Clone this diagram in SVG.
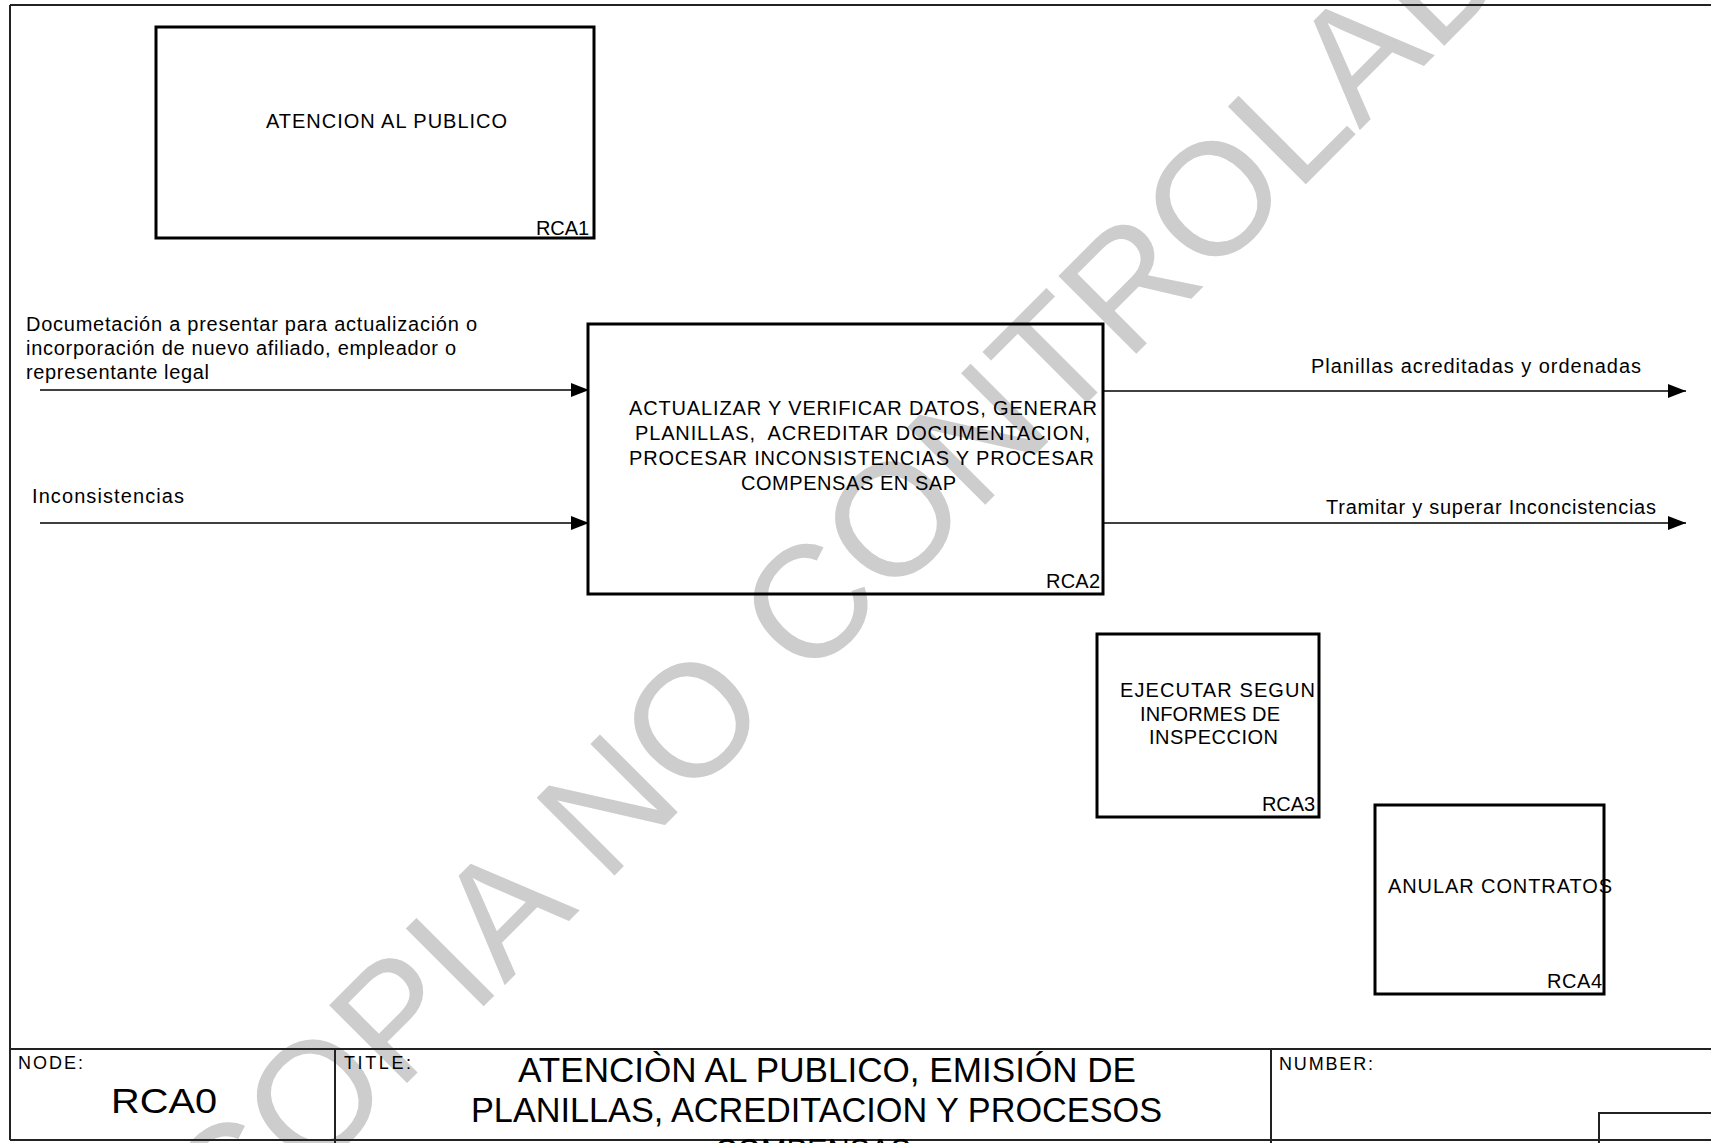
<svg xmlns="http://www.w3.org/2000/svg" width="1711" height="1143" viewBox="0 0 1711 1143">
  <style>
    .frame { fill: none; stroke: #222; stroke-width: 2; }
    .box { fill: none; stroke: #000; stroke-width: 3; }
    .flow { fill: none; stroke: #000; stroke-width: 1.6; }
    .t { font-family: "Liberation Sans", Arial, sans-serif; font-size: 20px; fill: #000; }
    .small { font-family: "Liberation Sans", Arial, sans-serif; font-size: 18px; fill: #000; }
    .big { font-family: "Liberation Sans", Arial, sans-serif; font-size: 35px; fill: #000; }
    .wm { font-family: "Liberation Sans", Arial, sans-serif; font-size: 160px; fill: #cdcdcd; }
  </style>
  <defs>
    <marker id="arrow" markerUnits="userSpaceOnUse" markerWidth="19" markerHeight="14" refX="18" refY="7" orient="auto">
      <path d="M0,0 L18,7 L0,14 z" fill="#000"/>
    </marker>
  </defs>

  <rect width="1711" height="1143" fill="#fff"/>

  <!-- watermark -->
  <text class="wm" transform="translate(228,1262) rotate(-45)">COPIA NO CONTROLADA</text>

  <!-- sheet frame and title block -->
  <g id="frame">
    <line class="frame" x1="10" y1="5" x2="1711" y2="5"/>
    <line class="frame" x1="10" y1="5" x2="10" y2="1140"/>
    <line class="frame" x1="10" y1="1049" x2="1711" y2="1049"/>
    <line class="frame" x1="10" y1="1140" x2="1711" y2="1140" stroke-width="2.5"/>
    <line class="frame" x1="335" y1="1049" x2="335" y2="1143"/>
    <line class="frame" x1="1271" y1="1049" x2="1271" y2="1143"/>
    <polyline class="frame" points="1599,1143 1599,1113 1711,1113" stroke-width="1.5"/>
  </g>

  <g id="title-block">
    <text class="small" x="18" y="1069" textLength="65" lengthAdjust="spacing">NODE:</text>
    <text class="big" x="111" y="1113" font-size="36" textLength="106" lengthAdjust="spacingAndGlyphs">RCA0</text>
    <text class="small" x="344" y="1069" textLength="67" lengthAdjust="spacing">TITLE:</text>
    <text class="big" x="518" y="1082" textLength="618" lengthAdjust="spacingAndGlyphs">ATENCIÒN AL PUBLICO, EMISIÓN DE</text>
    <text class="big" x="471" y="1122" textLength="691" lengthAdjust="spacingAndGlyphs">PLANILLAS, ACREDITACION Y PROCESOS</text>
    <text class="big" x="715" y="1163" textLength="196" lengthAdjust="spacingAndGlyphs">COMPENSAS</text>
    <text class="small" x="1279" y="1070" textLength="94" lengthAdjust="spacing">NUMBER:</text>
  </g>

  <!-- activity boxes -->
  <g id="RCA1">
    <rect class="box" x="156" y="27" width="438" height="211"/>
    <text class="t" x="266" y="128" textLength="241" lengthAdjust="spacing">ATENCION AL PUBLICO</text>
    <text class="t" x="536" y="235" textLength="53" lengthAdjust="spacing">RCA1</text>
  </g>

  <g id="RCA2">
    <rect class="box" x="588" y="324" width="515" height="270"/>
    <text class="t" x="629" y="415" textLength="468" lengthAdjust="spacing">ACTUALIZAR Y VERIFICAR DATOS, GENERAR</text>
    <text class="t" x="635" y="440" textLength="455" lengthAdjust="spacing" xml:space="preserve">PLANILLAS,  ACREDITAR DOCUMENTACION,</text>
    <text class="t" x="629" y="465" textLength="465" lengthAdjust="spacing">PROCESAR INCONSISTENCIAS Y PROCESAR</text>
    <text class="t" x="741" y="490" textLength="215" lengthAdjust="spacing">COMPENSAS EN SAP</text>
    <text class="t" x="1046" y="588" textLength="54" lengthAdjust="spacing">RCA2</text>
  </g>

  <g id="RCA3">
    <rect class="box" x="1097" y="634" width="222" height="183"/>
    <text class="t" x="1120" y="697" textLength="195" lengthAdjust="spacing">EJECUTAR SEGUN</text>
    <text class="t" x="1140" y="721" textLength="140" lengthAdjust="spacing">INFORMES DE</text>
    <text class="t" x="1149" y="744" textLength="129" lengthAdjust="spacing">INSPECCION</text>
    <text class="t" x="1262" y="811" textLength="53" lengthAdjust="spacing">RCA3</text>
  </g>

  <g id="RCA4">
    <rect class="box" x="1375" y="805" width="229" height="189"/>
    <text class="t" x="1388" y="893" textLength="224" lengthAdjust="spacing">ANULAR CONTRATOS</text>
    <text class="t" x="1547" y="988" textLength="55" lengthAdjust="spacing">RCA4</text>
  </g>

  <!-- inputs and outputs -->
  <g id="connectors">
    <line class="flow" x1="40" y1="390" x2="589" y2="390" marker-end="url(#arrow)"/>
    <line class="flow" x1="40" y1="523" x2="589" y2="523" marker-end="url(#arrow)"/>
    <line class="flow" x1="1104" y1="391" x2="1686" y2="391" marker-end="url(#arrow)"/>
    <line class="flow" x1="1104" y1="523" x2="1686" y2="523" marker-end="url(#arrow)"/>
    <text class="t" x="26" y="331" textLength="451" lengthAdjust="spacing">Documetación a presentar para actualización o</text>
    <text class="t" x="26" y="355" textLength="430" lengthAdjust="spacing">incorporación de nuevo afiliado, empleador o</text>
    <text class="t" x="26" y="379" textLength="183" lengthAdjust="spacing">representante legal</text>
    <text class="t" x="32" y="503" textLength="152" lengthAdjust="spacing">Inconsistencias</text>
    <text class="t" x="1311" y="373" textLength="330" lengthAdjust="spacing">Planillas acreditadas y ordenadas</text>
    <text class="t" x="1326" y="514" textLength="330" lengthAdjust="spacing">Tramitar y superar Inconcistencias</text>
  </g>
</svg>
